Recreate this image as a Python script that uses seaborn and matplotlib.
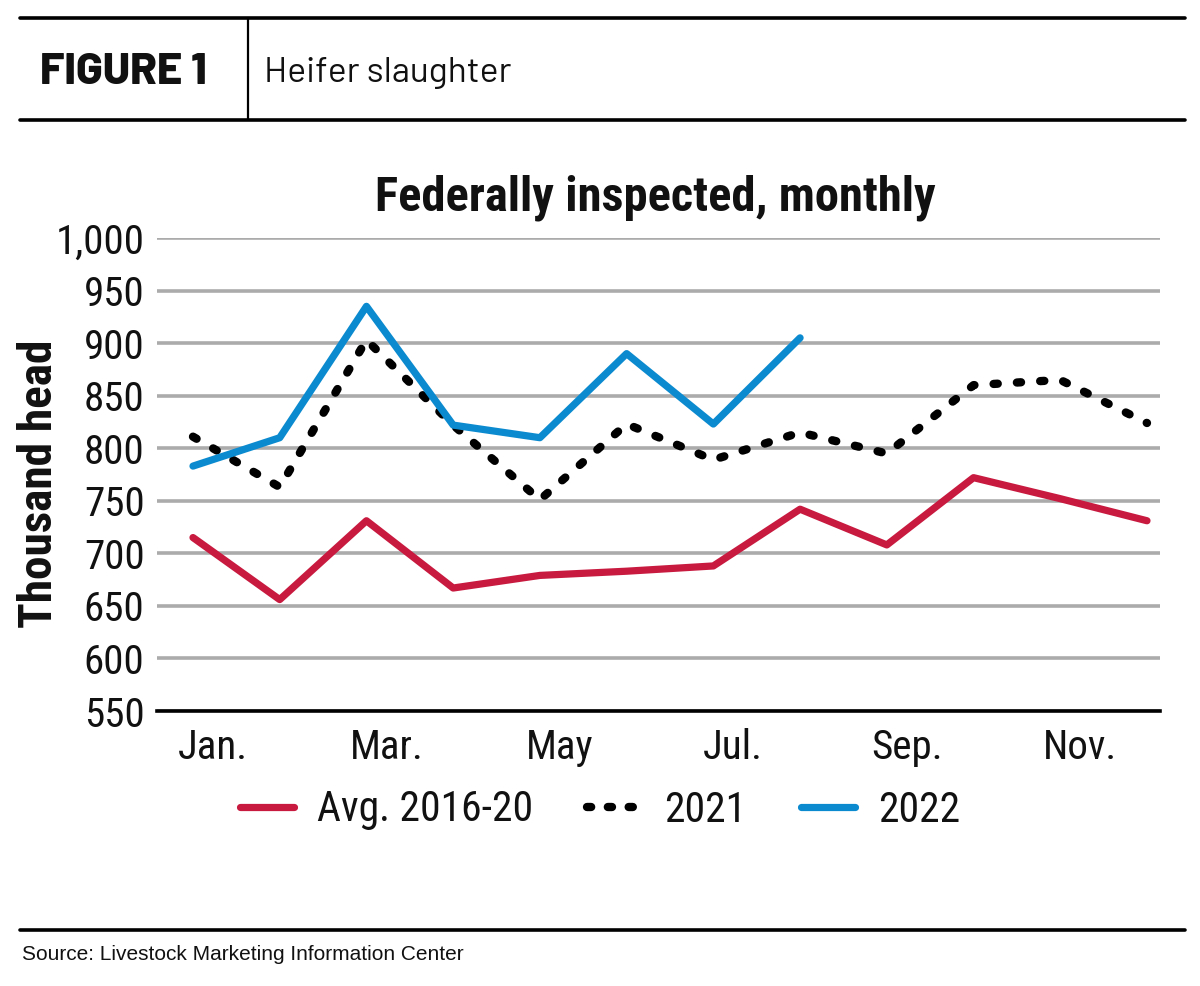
import matplotlib
matplotlib.use("Agg")
import matplotlib.pyplot as plt
import matplotlib.transforms as mtransforms
import seaborn as sns
import pandas as pd
import numpy as np

months = ["Jan.", "Feb.", "Mar.", "Apr.", "May", "Jun.", "Jul.", "Aug.", "Sep.", "Oct.", "Nov.", "Dec."]
avg_2016_20 = [715, 656, 731, 667, 679, 683, 688, 742, 708, 772, 752, 731]
y2021 = [811, 763, 903, 822, 751, 823, 789, 815, 795, 860, 865, 824]
y2022 = [783, 810, 935, 822, 810, 890, 823, 905]
series_names = ["Avg. 2016-20", "2021", "2022"]
yticks = [550, 600, 650, 700, 750, 800, 850, 900, 950, 1000]
xtick_labels = ["Jan.", "Mar.", "May", "Jul.", "Sep.", "Nov."]

sns.set_style("white")
plt.rcParams["font.family"] = ["Roboto Condensed", "DejaVu Sans"]

W, H = 1200, 986
fig = plt.figure(figsize=(W / 100, H / 100), dpi=100)

ax = fig.add_axes([157 / W, 1 - 711 / H, (1160 - 157) / W, (711 - 238) / H])

df = pd.concat([
    pd.DataFrame({"m": np.arange(len(avg_2016_20)), "v": avg_2016_20, "s": series_names[0]}),
    pd.DataFrame({"m": np.arange(len(y2021)), "v": y2021, "s": series_names[1]}),
    pd.DataFrame({"m": np.arange(len(y2022)), "v": y2022, "s": series_names[2]}),
])

red = "#C8193F"
blue = "#0B8ACF"
lw = 5.2
dot_style = (0, (0.5, 2.3))

sns.lineplot(data=df[df.s == series_names[0]], x="m", y="v", ax=ax, color=red, lw=lw,
             solid_capstyle="round", label=series_names[0])
sns.lineplot(data=df[df.s == series_names[1]], x="m", y="v", ax=ax, color="black", lw=lw,
             dashes=False, label=series_names[1])
sns.lineplot(data=df[df.s == series_names[2]], x="m", y="v", ax=ax, color=blue, lw=lw,
             solid_capstyle="round", label=series_names[2])

dotted = ax.lines[1]
dotted.set_linestyle(dot_style)
dotted.set_dash_capstyle("round")
dotted.set_linewidth(6)
dotted.set_zorder(2)
ax.lines[0].set_zorder(3)
ax.lines[2].set_zorder(3)

ax.set_xlim(-0.415, 11.15)
ax.set_ylim(550, 1000)
ax.set_yticks(yticks)
ax.set_yticklabels([f"{v:,}" for v in yticks], fontsize=29.5, color="#111111")
ax.set_xticks([0, 2, 4, 6, 8, 10])
ax.set_xticklabels(xtick_labels, fontsize=29.5, color="#111111")
ax.tick_params(axis="x", length=0, pad=12)
ax.tick_params(axis="y", length=0, pad=9)
off = mtransforms.ScaledTranslation(20 / 100, 0, fig.dpi_scale_trans)
for lab in ax.get_xticklabels():
    lab.set_transform(lab.get_transform() + off)
ax.yaxis.grid(True, color="#ABABAB", lw=2.6)
ax.set_axisbelow(True)
for s in ["top", "right", "left"]:
    ax.spines[s].set_visible(False)
ax.spines["bottom"].set_color("black")
ax.spines["bottom"].set_linewidth(2.6)
ax.set_xlabel("")
ax.set_ylabel("Thousand head", fontsize=34, fontweight="bold", color="#111111")
ax.yaxis.set_label_coords(-96 / (1160 - 157), 0.48)

ax.set_title("Federally inspected, monthly", fontsize=35, fontweight="bold", pad=20, x=0.497,
             color="#111111")

handles, labels = ax.get_legend_handles_labels()
if ax.legend_:
    ax.legend_.remove()
leg = fig.legend(handles, labels, loc="center", bbox_to_anchor=(0.5, 1 - 810 / H), ncol=3,
                 frameon=False, fontsize=30, handlelength=1.3, handletextpad=0.55, columnspacing=1.3)
for lh in leg.get_lines():
    lh.set_linewidth(lw)
leg.get_lines()[1].set_linestyle((0, (0.5, 2.0)))
leg.get_lines()[1].set_dash_capstyle("round")
leg.get_lines()[1].set_linewidth(6)
for t in leg.get_texts():
    t.set_color("#111111")

def hline(y, x0=20, x1=1185, lw=2.6):
    fig.add_artist(plt.Line2D([x0 / W, x1 / W], [1 - y / H, 1 - y / H], color="black", lw=lw))

hline(18)
hline(120)
hline(930)
fig.add_artist(plt.Line2D([248 / W, 248 / W], [1 - 18 / H, 1 - 120 / H], color="black", lw=1.6))
fig.text(40 / W, 1 - 73 / H, "FIGURE 1", fontsize=31.5, fontweight=800, family="Barlow",
         va="center", ha="left", color="#111111")
fig.text(264 / W, 1 - 73 / H, "Heifer slaughter", fontsize=25.5, family="Barlow",
         va="center", ha="left", color="#111111")
fig.text(22 / W, 1 - 955 / H, "Source: Livestock Marketing Information Center", fontsize=15,
         family="Liberation Sans", va="center", ha="left", color="#111111")

fig.savefig("out.png", dpi=100, facecolor="white")
